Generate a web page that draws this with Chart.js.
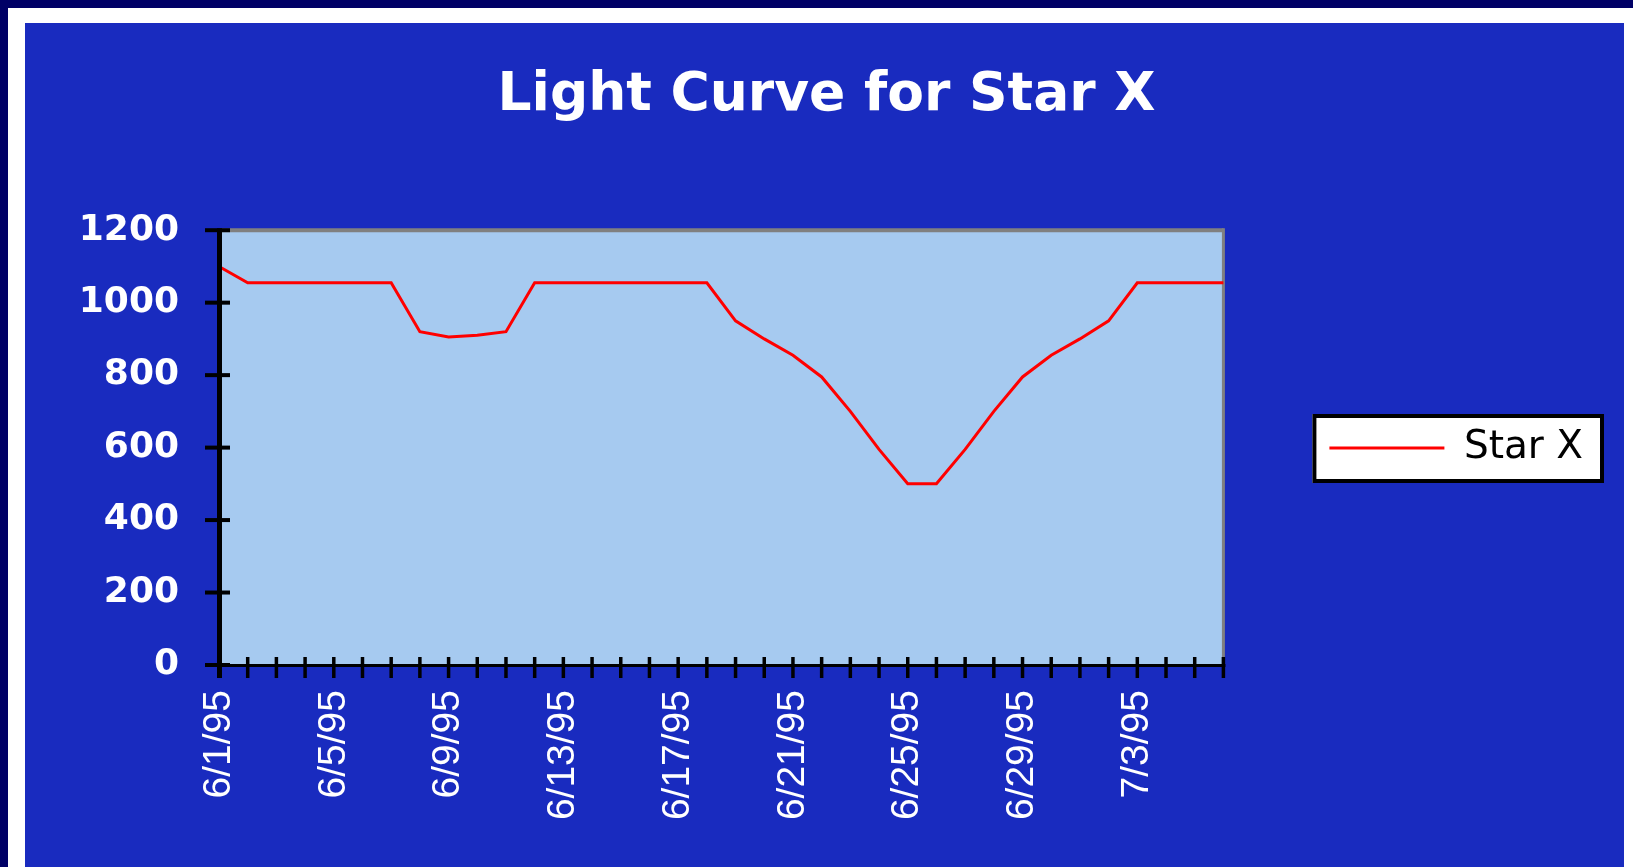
<!DOCTYPE html>
<html>
<head>
<meta charset="utf-8">
<title>Light Curve for Star X</title>
<script src="https://cdn.jsdelivr.net/npm/chart.js@4.4.1/dist/chart.umd.min.js"></script>
<style>
  html, body { margin:0; padding:0; }
  body { width:1633px; height:867px; background:#000066; position:relative; overflow:hidden; }
  #white { position:absolute; left:8px; top:8px; width:1625px; height:859px; background:#fff; }
  #panel { position:absolute; left:25px; top:23px; width:1599px; height:844px; background:#192bbf; }
</style>
</head>
<body>
<div id="white"></div>
<div id="panel"><canvas id="chart"></canvas></div>
<script>
// categories: one reading per day, 6/1/95 .. 7/6/95
const dates = [
  "6/1/95","6/2/95","6/3/95","6/4/95","6/5/95","6/6/95","6/7/95","6/8/95","6/9/95","6/10/95",
  "6/11/95","6/12/95","6/13/95","6/14/95","6/15/95","6/16/95","6/17/95","6/18/95","6/19/95","6/20/95",
  "6/21/95","6/22/95","6/23/95","6/24/95","6/25/95","6/26/95","6/27/95","6/28/95","6/29/95","6/30/95",
  "7/1/95","7/2/95","7/3/95","7/4/95","7/5/95","7/6/95"
];
const starX = [
  1100, 1055, 1055, 1055, 1055, 1055, 1055, 920, 905, 910,
  920, 1055, 1055, 1055, 1055, 1055, 1055, 1055, 950, 900,
  855, 795, 700, 595, 500, 500, 595, 700, 795, 855,
  900, 950, 1055, 1055, 1055, 1055
];
const yMin = 0, yMax = 1200, yStep = 200;
const labelEvery = 4;

const PLOT_BG = "#a6caf0";

// date labels in the original are a narrow face; use the narrow Liberation cut if present
const probe = document.createElement("canvas").getContext("2d");
function hasFont(name){
  probe.font = "100px monospace";
  const a = probe.measureText("6/13/95 Wmi").width;
  probe.font = `100px "${name}", monospace`;
  return probe.measureText("6/13/95 Wmi").width !== a;
}
const xFamily = hasFont("Liberation Sans Narrow") ? '"Liberation Sans Narrow"' : '"Liberation Sans"';
probe.font = `100px ${xFamily}`;
const xSize = Math.round(100 * 129 / probe.measureText("6/13/95").width);

// Excel-ish frame: plot fill, grey border, crossing tick marks, boxed legend
const excelFrame = {
  id: "excelFrame",
  beforeDraw(chart){
    const { ctx, chartArea: a } = chart;
    ctx.save();
    ctx.fillStyle = PLOT_BG;
    ctx.fillRect(a.left, a.top, a.right - a.left, a.bottom - a.top);
    ctx.strokeStyle = "#808080";
    ctx.lineWidth = 4;
    ctx.beginPath(); ctx.moveTo(a.left, a.top); ctx.lineTo(a.right, a.top); ctx.stroke();
    ctx.lineWidth = 3;
    ctx.beginPath(); ctx.moveTo(a.right, a.top - 2); ctx.lineTo(a.right, a.bottom); ctx.stroke();

    const lg = chart.legend;
    if (lg && lg.legendHitBoxes && lg.legendHitBoxes.length){
      const pad = lg.options.labels.padding;
      const iw = lg.legendHitBoxes[0].width;
      const x0 = lg.left + pad - 17, x1 = lg.left + pad + iw + 21;
      const cy = (lg.top + lg.bottom) / 2;
      ctx.fillStyle = "#fff";
      ctx.fillRect(x0, cy - 34, x1 - x0, 69);
      ctx.strokeStyle = "#000";
      ctx.lineWidth = 4;
      ctx.strokeRect(x0 + 2, cy - 32, x1 - x0 - 4, 65);
    }
    ctx.restore();
  },
  afterDraw(chart){
    const { ctx, chartArea: a, scales: { x, y } } = chart;
    ctx.save();
    ctx.strokeStyle = "#000";
    // y axis + ticks
    ctx.lineWidth = 5;
    ctx.beginPath(); ctx.moveTo(a.left + 0.5, a.top - 2); ctx.lineTo(a.left + 0.5, a.bottom + 13); ctx.stroke();
    ctx.lineWidth = 4;
    y.ticks.forEach((t, i) => {
      const py = y.getPixelForTick(i);
      ctx.beginPath(); ctx.moveTo(a.left - 14, py); ctx.lineTo(a.left + 11, py); ctx.stroke();
    });
    // x axis + ticks
    ctx.lineWidth = 3;
    ctx.beginPath(); ctx.moveTo(a.left - 14, a.bottom + 0.5); ctx.lineTo(a.right + 2, a.bottom + 0.5); ctx.stroke();
    ctx.lineWidth = 3.5;
    x.ticks.forEach((t, i) => {
      const px = x.getPixelForTick(i);
      ctx.beginPath(); ctx.moveTo(px, a.bottom - 8); ctx.lineTo(px, a.bottom + 13); ctx.stroke();
    });
    ctx.restore();
  }
};

new Chart(document.getElementById("chart"), {
  type: "line",
  data: {
    labels: dates,
    datasets: [{
      label: "Star X",
      data: starX,
      borderColor: "#ff0000",
      backgroundColor: "#ff0000",
      borderWidth: 3,
      pointRadius: 0,
      tension: 0
    }]
  },
  options: {
    responsive: true,
    maintainAspectRatio: false,
    animation: false,
    layout: { padding: { top: 6, right: 31, left: 35, bottom: 0 } },
    plugins: {
      title: {
        display: true,
        text: "Light Curve for Star X",
        color: "#fff",
        font: { family: '"DejaVu Sans"', size: 53.5, weight: "bold", lineHeight: 1.2 },
        padding: { top: 35, bottom: 102 }
      },
      legend: {
        position: "right",
        labels: {
          boxWidth: 115,
          boxHeight: 3,
          padding: 106,
          color: "#000",
          font: { family: '"DejaVu Sans"', size: 39, lineHeight: 1 },
          generateLabels: c => Chart.defaults.plugins.legend.labels.generateLabels(c).map(l => ({ ...l, lineWidth: 0 }))
        }
      },
      tooltip: { enabled: false }
    },
    scales: {
      x: {
        grid: { display: false, drawTicks: true, tickLength: 11 },
        border: { display: false },
        afterFit: s => { s.height = 202; },
        ticks: {
          autoSkip: false,
          maxRotation: 90,
          minRotation: 90,
          padding: 14,
          color: "#fff",
          font: { family: xFamily, size: xSize },
          callback: (v, i) => i % labelEvery === 0 ? dates[i] : ""
        }
      },
      y: {
        min: yMin,
        max: yMax,
        grid: { display: false, drawTicks: true, tickLength: 14 },
        border: { display: false },
        afterFit: s => { s.width = 159; },
        ticks: {
          stepSize: yStep,
          padding: 26,
          color: "#fff",
          font: { family: '"DejaVu Sans"', size: 36, weight: "bold" },
          callback: v => String(v)
        }
      }
    }
  },
  plugins: [excelFrame]
});
</script>
</body>
</html>
